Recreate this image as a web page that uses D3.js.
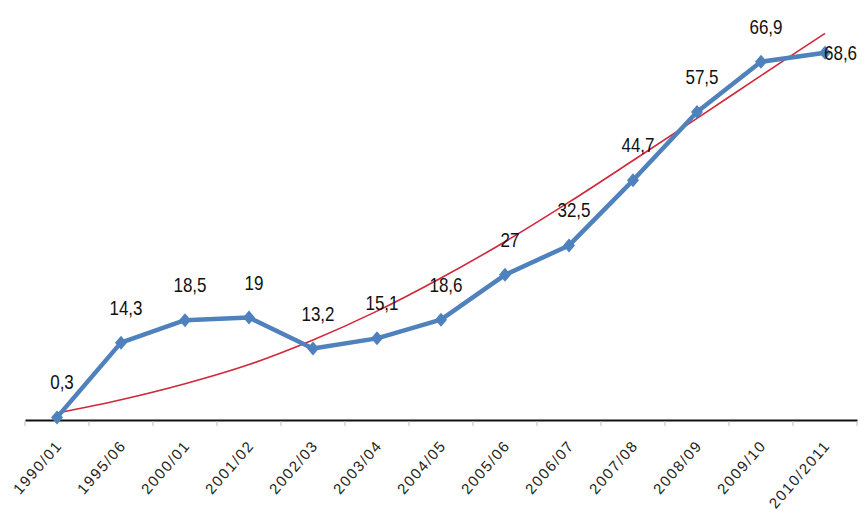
<!DOCTYPE html>
<html>
<head>
<meta charset="utf-8">
<script src="https://cdn.jsdelivr.net/npm/d3@7"></script>
<style>
  body { margin: 0; background: #fff; }
  svg { display: block; font-family: "Liberation Sans", Arial, sans-serif; }
</style>
</head>
<body>
<div id="chart"></div>
<script>
// chart data
const years = ["1990/01", "1995/06", "2000/01", "2001/02", "2002/03", "2003/04", "2004/05",
               "2005/06", "2006/07", "2007/08", "2008/09", "2009/10", "2010/2011"];
const values = [0.3, 14.3, 18.5, 19, 13.2, 15.1, 18.6, 27, 32.5, 44.7, 57.5, 66.9, 68.6];
// trend line
const trend = [1.1, 3.6, 6.6, 10.2, 14.8, 20.2, 26.4, 33.2, 40.6, 48.4, 56.3, 64.3, 72.2];

const width = 868, height = 517;
const squish = 0.85; // the picture is a bit narrowed horizontally

const svg = d3.select("#chart")
  .append("svg")
    .attr("width", width)
    .attr("height", height);

// scales
const x = d3.scaleBand()
  .domain(years)
  .range([25, 857])
  .padding(0);

const y = d3.scaleLinear()
  .domain([0, 70])
  .range([419, 45.2]);

const cx = d => x(d) + x.bandwidth() / 2;

// x axis
const xAxis = svg.append("g")
  .attr("transform", `translate(0, 420)`)
  .call(d3.axisBottom(x).tickSize(0).tickFormat(""));
xAxis.select(".domain")
  .attr("stroke", "#111")
  .attr("stroke-width", 2.2);

// small tick marks at the band boundaries
const bounds = years.map(d => x(d)).concat([x.range()[1]]);
svg.append("g")
  .selectAll("line")
  .data(bounds)
  .join("line")
    .attr("x1", d => d)
    .attr("x2", d => d)
    .attr("y1", 421)
    .attr("y2", 426)
    .attr("stroke", "#bbb")
    .attr("stroke-width", 1);

// rotated tick labels
svg.append("g")
  .selectAll("text")
  .data(years)
  .join("text")
    .attr("transform", d => `translate(${cx(d) + 6}, 446) rotate(-49)`)
    .attr("text-anchor", "end")
    .style("font-size", "15px")
    .style("letter-spacing", "1.6px")
    .attr("fill", "#222")
    .text(d => d);

// trend line
const trendLine = d3.line()
  .x((d, i) => cx(years[i]))
  .y(d => y(d))
  .curve(d3.curveCatmullRom);

svg.append("path")
  .datum(trend)
  .attr("d", trendLine)
  .attr("fill", "none")
  .attr("stroke", "#d0283a")
  .attr("stroke-width", 1.6);

// main series
const line = d3.line()
  .x((d, i) => cx(years[i]))
  .y(d => y(d));

svg.append("path")
  .datum(values)
  .attr("d", line)
  .attr("fill", "none")
  .attr("stroke", "#4F81BD")
  .attr("stroke-width", 4.5)
  .attr("stroke-linejoin", "round");

// diamond markers
svg.append("g")
  .selectAll("path")
  .data(values)
  .join("path")
    .attr("transform", (d, i) => `translate(${cx(years[i])}, ${y(d)})`)
    .attr("d", "M0,-7L6,0L0,7L-6,0Z")
    .attr("fill", "#4F81BD");

// value labels
const fmt = v => String(v).replace(".", ",");
const last = values.length - 1;
svg.append("g")
  .selectAll("text")
  .data(values)
  .join("text")
    .attr("transform", (d, i) => {
      if (i === last) return `translate(${cx(years[i]) - 1}, ${y(d) + 7}) scale(${squish}, 1)`;
      return `translate(${cx(years[i]) + 5}, ${y(d) - 28}) scale(${squish}, 1)`;
    })
    .attr("text-anchor", (d, i) => i === last ? "start" : "middle")
    .style("font-size", "20px")
    .attr("fill", "#111")
    .text(d => fmt(d));
</script>
</body>
</html>
